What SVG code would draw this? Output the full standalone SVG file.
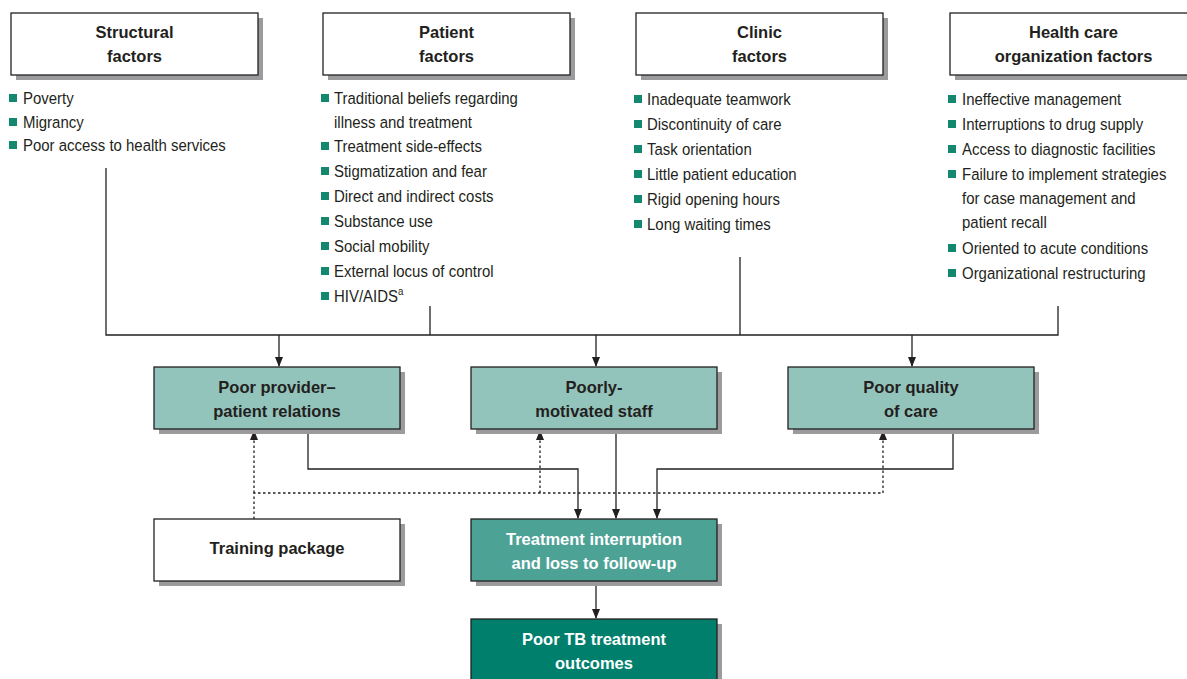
<svg xmlns="http://www.w3.org/2000/svg" width="1187" height="679" viewBox="0 0 1187 679">
<defs>
<marker id="ah" markerWidth="10" markerHeight="10" refX="9" refY="5" orient="auto" markerUnits="userSpaceOnUse">
<path d="M0,1 L10,5 L0,9 Z" fill="#231f20"/>
</marker>
</defs>
<style>
.bx{stroke:#231f20;stroke-width:1.3}
.sh{fill:#9b9b9d}
.wt{fill:#ffffff}
.lt{fill:#93c4bc}
.md{fill:#4da296}
.dk{fill:#007f6d}
.hd{font-family:"Liberation Sans",Arial,sans-serif;font-weight:bold;font-size:16.5px;fill:#231f20;text-anchor:middle}
.hw{fill:#ffffff}
.it{font-family:"Liberation Sans",Arial,sans-serif;font-size:17px;fill:#231f20}
.bl{fill:#14876f}
.ln{fill:none;stroke:#231f20;stroke-width:1.3}
.dt{fill:none;stroke:#231f20;stroke-width:1.3;stroke-dasharray:2.5,2.5}
</style>

<g id="structural">
<rect class="sh" x="16" y="18" width="247" height="62"/>
<rect class="bx wt" x="11" y="13" width="247" height="62"/>
<text class="hd" x="134.5" y="38">Structural</text>
<text class="hd" x="134.5" y="62">factors</text>
<rect class="bl" x="9" y="94" width="8" height="8"/>
<rect class="bl" x="9" y="118" width="8" height="8"/>
<rect class="bl" x="9" y="141" width="8" height="8"/>
<g transform="translate(23 0) scale(0.88 1)">
<text class="it" x="0" y="104">Poverty</text>
<text class="it" x="0" y="128">Migrancy</text>
<text class="it" x="0" y="151">Poor access to health services</text>
</g>
</g>

<g id="patient">
<rect class="sh" x="328" y="18" width="247" height="62"/>
<rect class="bx wt" x="323" y="13" width="247" height="62"/>
<text class="hd" x="446.5" y="38">Patient</text>
<text class="hd" x="446.5" y="62">factors</text>
<rect class="bl" x="321" y="94" width="8" height="8"/>
<rect class="bl" x="321" y="142" width="8" height="8"/>
<rect class="bl" x="321" y="167" width="8" height="8"/>
<rect class="bl" x="321" y="192" width="8" height="8"/>
<rect class="bl" x="321" y="217" width="8" height="8"/>
<rect class="bl" x="321" y="242" width="8" height="8"/>
<rect class="bl" x="321" y="267" width="8" height="8"/>
<rect class="bl" x="321" y="292" width="8" height="8"/>
<g transform="translate(334 0) scale(0.88 1)">
<text class="it" x="0" y="104">Traditional beliefs regarding</text>
<text class="it" x="0" y="128">illness and treatment</text>
<text class="it" x="0" y="152">Treatment side-effects</text>
<text class="it" x="0" y="177">Stigmatization and fear</text>
<text class="it" x="0" y="202">Direct and indirect costs</text>
<text class="it" x="0" y="227">Substance use</text>
<text class="it" x="0" y="252">Social mobility</text>
<text class="it" x="0" y="277">External locus of control</text>
<text class="it" x="0" y="302">HIV/AIDS<tspan font-size="11" dy="-7">a</tspan></text>
</g>
</g>

<g id="clinic">
<rect class="sh" x="641" y="18" width="247" height="62"/>
<rect class="bx wt" x="636" y="13" width="247" height="62"/>
<text class="hd" x="759.5" y="38">Clinic</text>
<text class="hd" x="759.5" y="62">factors</text>
<rect class="bl" x="634" y="95" width="8" height="8"/>
<rect class="bl" x="634" y="120" width="8" height="8"/>
<rect class="bl" x="634" y="145" width="8" height="8"/>
<rect class="bl" x="634" y="170" width="8" height="8"/>
<rect class="bl" x="634" y="195" width="8" height="8"/>
<rect class="bl" x="634" y="220" width="8" height="8"/>
<g transform="translate(647 0) scale(0.88 1)">
<text class="it" x="0" y="105">Inadequate teamwork</text>
<text class="it" x="0" y="130">Discontinuity of care</text>
<text class="it" x="0" y="155">Task orientation</text>
<text class="it" x="0" y="180">Little patient education</text>
<text class="it" x="0" y="205">Rigid opening hours</text>
<text class="it" x="0" y="230">Long waiting times</text>
</g>
</g>

<g id="healthcare">
<rect class="sh" x="955" y="18" width="247" height="62"/>
<rect class="bx wt" x="950" y="13" width="247" height="62"/>
<text class="hd" x="1073.5" y="38">Health care</text>
<text class="hd" x="1073.5" y="62">organization factors</text>
<rect class="bl" x="948" y="95" width="8" height="8"/>
<rect class="bl" x="948" y="120" width="8" height="8"/>
<rect class="bl" x="948" y="145" width="8" height="8"/>
<rect class="bl" x="948" y="170" width="8" height="8"/>
<rect class="bl" x="948" y="244" width="8" height="8"/>
<rect class="bl" x="948" y="269" width="8" height="8"/>
<g transform="translate(962 0) scale(0.88 1)">
<text class="it" x="0" y="105">Ineffective management</text>
<text class="it" x="0" y="130">Interruptions to drug supply</text>
<text class="it" x="0" y="155">Access to diagnostic facilities</text>
<text class="it" x="0" y="180">Failure to implement strategies</text>
<text class="it" x="0" y="204">for case management and</text>
<text class="it" x="0" y="228">patient recall</text>
<text class="it" x="0" y="254">Oriented to acute conditions</text>
<text class="it" x="0" y="279">Organizational restructuring</text>
</g>
</g>

<g id="connectors">
<path class="ln" d="M106,168 V335 H1058 V306"/>
<path class="ln" d="M430,306 V335"/>
<path class="ln" d="M740,257 V335"/>
<path class="ln" d="M279,335 V366" marker-end="url(#ah)"/>
<path class="ln" d="M596,335 V366" marker-end="url(#ah)"/>
<path class="ln" d="M912,335 V366" marker-end="url(#ah)"/>
<path class="ln" d="M308,429 V469 H578 V518" marker-end="url(#ah)"/>
<path class="ln" d="M616,429 V518" marker-end="url(#ah)"/>
<path class="ln" d="M953,429 V469 H657 V518" marker-end="url(#ah)"/>
<path class="ln" d="M596,581 V618" marker-end="url(#ah)"/>
<path class="dt" d="M254,519 V493 H883"/>
<path class="dt" d="M254,493 V431" marker-end="url(#ah)"/>
<path class="dt" d="M540,493 V431" marker-end="url(#ah)"/>
<path class="dt" d="M883,493 V431" marker-end="url(#ah)"/>
</g>

<g id="provider">
<rect class="sh" x="159" y="372" width="246" height="62"/>
<rect class="bx lt" x="154" y="367" width="246" height="62"/>
<text class="hd" x="277" y="393">Poor provider–</text>
<text class="hd" x="277" y="417">patient relations</text>
</g>

<g id="staff">
<rect class="sh" x="476" y="372" width="246" height="62"/>
<rect class="bx lt" x="471" y="367" width="246" height="62"/>
<text class="hd" x="594" y="393">Poorly-</text>
<text class="hd" x="594" y="417">motivated staff</text>
</g>

<g id="quality">
<rect class="sh" x="793" y="372" width="246" height="62"/>
<rect class="bx lt" x="788" y="367" width="246" height="62"/>
<text class="hd" x="911" y="393">Poor quality</text>
<text class="hd" x="911" y="417">of care</text>
</g>

<g id="training">
<rect class="sh" x="159" y="524" width="246" height="62"/>
<rect class="bx wt" x="154" y="519" width="246" height="62"/>
<text class="hd" x="277" y="554">Training package</text>
</g>

<g id="interruption">
<rect class="sh" x="476" y="524" width="246" height="62"/>
<rect class="bx md" x="471" y="519" width="246" height="62"/>
<text class="hd hw" x="594" y="545">Treatment interruption</text>
<text class="hd hw" x="594" y="569">and loss to follow-up</text>
</g>

<g id="outcomes">
<rect class="sh" x="476" y="624" width="246" height="62"/>
<rect class="bx dk" x="471" y="619" width="246" height="62"/>
<text class="hd hw" x="594" y="645">Poor TB treatment</text>
<text class="hd hw" x="594" y="669">outcomes</text>
</g>
</svg>
